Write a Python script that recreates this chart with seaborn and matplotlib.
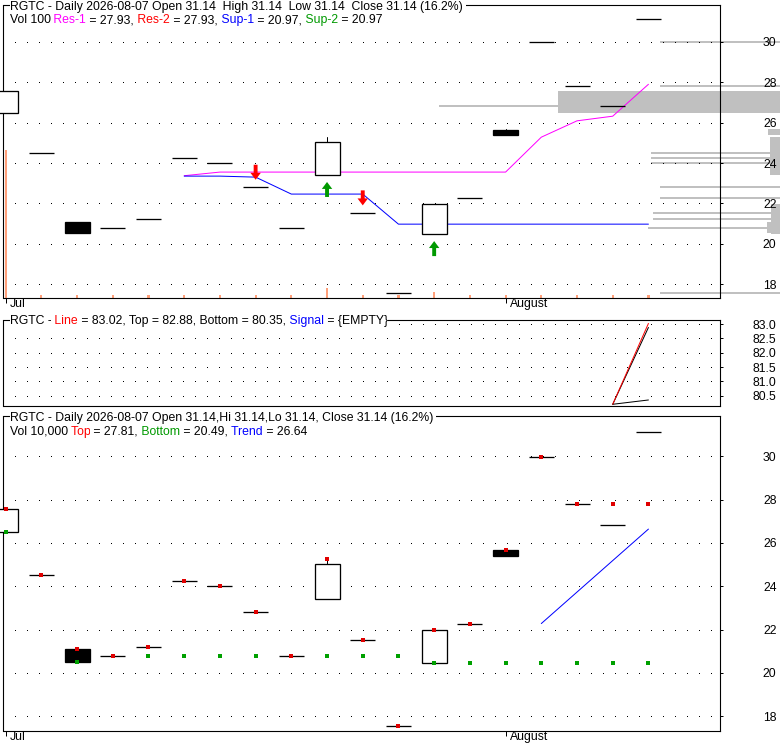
import matplotlib
matplotlib.use("Agg")
import matplotlib.pyplot as plt
import matplotlib.transforms as mtransforms
from matplotlib.patches import Rectangle
import seaborn as sns

# daily candles (19 sessions, early Jul .. 2026-08-07)
opens  = [26.49, 24.50, 21.09, 20.77, 21.22, 24.23, 24.00, 22.82, 20.77, 23.40,
          21.51, 17.56, 20.48, 22.25, 25.66, 29.99, 27.81, 26.81, 31.14]
highs  = [27.55, 24.50, 21.09, 20.77, 21.22, 24.23, 24.00, 22.82, 20.77, 25.27,
          21.51, 17.56, 21.97, 22.25, 25.68, 29.99, 27.81, 26.81, 31.14]
lows   = [26.49, 24.50, 20.51, 20.77, 21.22, 24.23, 24.00, 22.82, 20.77, 23.40,
          21.51, 17.56, 20.48, 22.25, 25.40, 29.99, 27.81, 26.81, 31.14]
closes = [27.55, 24.50, 20.51, 20.77, 21.22, 24.23, 24.00, 22.82, 20.77, 25.04,
          21.51, 17.56, 21.97, 22.25, 25.40, 29.99, 27.81, 26.81, 31.14]
volume = [5900, 100, 100, 100, 100, 100, 100, 100, 100, 400,
          100, 100, 250, 100, 100, 100, 100, 100, 100]

# volume-at-price bars hanging off the right edge, one per candle
profile = [222, 129, 13, 132, 127, 129, 129, 120, 132, 10,
           127, 120, 9, 120, 12, 120, 120, 341, 0]

# resistance / support lines
rs_idx = [5, 6, 7, 8, 9, 10, 11, 12, 13, 14, 15, 16, 17, 18]
res1 = [23.37, 23.55, 23.55, 23.55, 23.55, 23.55, 23.55, 23.55, 23.55, 23.55,
        25.28, 26.09, 26.32, 27.90]
sup1 = [23.35, 23.35, 23.30, 22.46, 22.46, 22.46, 20.97, 20.97, 20.97, 20.97,
        20.97, 20.97, 20.97, 20.97]
sell_idx = [7, 10]
sell_px = [23.17, 21.90]
buy_idx = [9, 12]
buy_px = [23.06, 20.13]

# middle oscillator panel
osc_idx = [17, 18]
osc_line = [80.20, 83.02]
osc_top = [80.20, 82.88]
osc_bottom = [80.20, 80.35]

# top / bottom dots and trend in the lower panel
tb_top = [27.55, 24.50, 21.09, 20.77, 21.22, 24.23, 24.00, 22.82, 20.77, 25.28,
          21.51, 17.56, 21.97, 22.25, 25.68, 29.99, 27.81, 27.81, 27.81]
tb_bottom = [26.49, 24.50, 20.51, 20.77, 20.77, 20.77, 20.77, 20.77, 20.77, 20.77,
             20.77, 20.77, 20.48, 20.48, 20.48, 20.48, 20.48, 20.48, 20.48]
trend_idx = [15, 18]
trend = [22.28, 26.64]

month_pos = [0, 14]
month_labels = ["Jul", "August"]
price_ticks = [18, 20, 22, 24, 26, 28, 30]
osc_ticks = [80.5, 81.0, 81.5, 82.0, 82.5, 83.0]

sns.set_style("white")
plt.rcParams["font.family"] = ["Liberation Sans", "DejaVu Sans"]
plt.rcParams["lines.scale_dashes"] = False

PX = 0.72          # points per pixel at 100 dpi
FS = 8.8
W, H = 780, 745
n = len(closes)
XL = (-0.06, 19.99)
BODY = 0.7
MAGENTA, RED, BLUE, GREEN = "#FF00FF", "#FF0000", "#0000FF", "#009900"


def frame(x0, y0, x1, y1):
    return [x0 / W, 1 - y1 / H, (x1 - x0) / W, (y1 - y0) / H]


fig = plt.figure(figsize=(W / 100, H / 100), dpi=100)
top_box = frame(3.5, 5, 719.5, 298)
pax = fig.add_axes(frame(0, 5, W, 298))
vax = fig.add_axes(top_box)
ax1 = fig.add_axes(top_box)
ax2 = fig.add_axes(frame(3.5, 320, 719.5, 406))
ax3 = fig.add_axes(frame(3.5, 416, 719.5, 731))


def style(ax, ylim, yticks, fmt):
    ax.set_xlim(*XL)
    ax.set_ylim(*ylim)
    ax.set_facecolor("none")
    ax.set_yticks(yticks)
    ax.set_yticklabels([fmt.format(v) for v in yticks])
    ax.yaxis.tick_right()
    ax.tick_params(axis="y", direction="out", length=3 * PX, width=PX,
                   pad=54 * PX, labelsize=FS, colors="black")
    for lbl in ax.get_yticklabels():
        lbl.set_ha("right")
    ax.yaxis.grid(True, color="black", linestyle=(0, (PX, 11 * PX)),
                  linewidth=PX, antialiased=False)
    ax.xaxis.grid(False)
    for sp in ax.spines.values():
        sp.set_visible(True)
        sp.set_color("black")
        sp.set_linewidth(0.8)


def month_axis(ax):
    ax.set_xticks(month_pos)
    ax.set_xticklabels(month_labels)
    ax.tick_params(axis="x", direction="out", length=5 * PX, width=PX,
                   pad=-5 * PX, labelsize=FS, bottom=True, colors="black")
    shift = mtransforms.ScaledTranslation(4 / 100, 0, fig.dpi_scale_trans)
    for lbl in ax.get_xticklabels():
        lbl.set_ha("left")
        lbl.set_transform(lbl.get_transform() + shift)


def candles(ax):
    for i in range(n):
        o, h, l, c = opens[i], highs[i], lows[i], closes[i]
        lo, hi = min(o, c), max(o, c)
        if h > hi:
            ax.plot([i, i], [hi, h], color="black", lw=PX, zorder=3)
        if l < lo:
            ax.plot([i, i], [l, lo], color="black", lw=PX, zorder=3)
        if hi - lo < 0.02:
            ax.plot([i - BODY / 2, i + BODY / 2], [c, c], color="black",
                    lw=1.3 * PX, solid_capstyle="butt", zorder=3, clip_on=False)
        else:
            ax.add_patch(Rectangle((i - BODY / 2, lo), BODY, hi - lo,
                                   facecolor="white" if c >= o else "black",
                                   edgecolor="black", lw=1.3 * PX, zorder=3,
                                   clip_on=False))


def header(ax, pieces, dy):
    # coloured pieces laid end to end, each on a white patch so the frame breaks
    box = dict(boxstyle="square,pad=0", fc="white", ec="none")
    prev = None
    for s, col in pieces:
        if prev is None:
            prev = ax.annotate(s, xy=(0, 1), xycoords="axes fraction",
                               xytext=(6 * PX, dy * PX), textcoords="offset points",
                               fontsize=FS, va="center", ha="left", color=col,
                               bbox=box)
        else:
            prev = ax.annotate(s, xy=(1, 0), xycoords=prev, fontsize=FS,
                               va="bottom", ha="left", color=col, bbox=box)


# ---- top panel: price with support / resistance ----
top_ylim = (17.31, 31.83)
pax.set_xlim(W, 0)
pax.set_ylim(*top_ylim)
pax.axis("off")
pax.barh(y=[(h + l) / 2 for h, l in zip(highs, lows)], width=profile,
         height=[max(h - l, 0.09) for h, l in zip(highs, lows)],
         left=0, color="#C0C0C0", linewidth=0)

vax.set_xlim(*XL)
vax.set_ylim(0, 11700)
vax.axis("off")
vax.bar(range(n), volume, width=0.06, color="#FFA07A", linewidth=0)

style(ax1, top_ylim, price_ticks, "{:d}")
month_axis(ax1)
sns.lineplot(x=rs_idx, y=res1, ax=ax1, color=MAGENTA, linewidth=PX)
sns.lineplot(x=rs_idx, y=sup1, ax=ax1, color=BLUE, linewidth=PX)
candles(ax1)
arrow = "simple,head_length=0.5,head_width=0.75,tail_width=0.28"
for i, p in zip(sell_idx, sell_px):
    ax1.annotate("", xy=(i, p), xytext=(0, 15 * PX), textcoords="offset points",
                 arrowprops=dict(arrowstyle=arrow, fc=RED, ec="none",
                                 shrinkA=0, shrinkB=0, mutation_scale=10))
for i, p in zip(buy_idx, buy_px):
    ax1.annotate("", xy=(i, p), xytext=(0, -15 * PX), textcoords="offset points",
                 arrowprops=dict(arrowstyle=arrow, fc=GREEN, ec="none",
                                 shrinkA=0, shrinkB=0, mutation_scale=10))
ax1.set_xlabel("")
ax1.set_ylabel("")

last = closes[-1]
chg = (last - closes[-2]) / closes[-2] * 100
header(ax1, [(f"RGTC - Daily 2026-08-07 Open {opens[-1]:.2f}  High {highs[-1]:.2f}  "
              f"Low {lows[-1]:.2f}  Close {last:.2f} ({chg:.1f}%) ", "black")], -1.5)
header(ax1, [("Vol 100", "black"), (" Res-1", MAGENTA), (" = 27.93,", "black"),
             (" Res-2", RED), (" = 27.93,", "black"), (" Sup-1", BLUE),
             (" = 20.97,", "black"), (" Sup-2", GREEN), (" = 20.97", "black")], -15)

# ---- middle panel: oscillator ----
style(ax2, (80.14, 83.14), osc_ticks, "{:.1f}")
ax2.set_xticks([])
sns.lineplot(x=osc_idx, y=osc_top, ax=ax2, color="black", linewidth=PX)
sns.lineplot(x=osc_idx, y=osc_bottom, ax=ax2, color="black", linewidth=PX)
sns.lineplot(x=osc_idx, y=osc_line, ax=ax2, color=RED, linewidth=PX)
ax2.set_xlabel("")
ax2.set_ylabel("")
header(ax2, [("RGTC -", "black"), (" Line", RED),
             (" = 83.02, Top = 82.88, Bottom = 80.35,", "black"),
             (" Signal", BLUE), (" = {EMPTY}", "black")], -1.5)

# ---- bottom panel: top / bottom / trend ----
style(ax3, (17.32, 31.86), price_ticks, "{:d}")
month_axis(ax3)
candles(ax3)
sns.lineplot(x=trend_idx, y=trend, ax=ax3, color=BLUE, linewidth=PX)
sns.scatterplot(x=list(range(n)), y=tb_bottom, ax=ax3, color="#00A000",
                marker="s", s=5, linewidth=0, zorder=4)
sns.scatterplot(x=list(range(n)), y=tb_top, ax=ax3, color="#E00000",
                marker="s", s=5, linewidth=0, zorder=5)
ax3.set_xlabel("")
ax3.set_ylabel("")
header(ax3, [(f"RGTC - Daily 2026-08-07 Open {opens[-1]:.2f},Hi {highs[-1]:.2f},"
              f"Lo {lows[-1]:.2f}, Close {last:.2f} ({chg:.1f}%) ", "black")], -1.5)
header(ax3, [("Vol 10,000", "black"), (" Top", RED), (" = 27.81,", "black"),
             (" Bottom", GREEN), (" = 20.49,", "black"), (" Trend", BLUE),
             (" = 26.64", "black")], -16)

fig.savefig("out.png", dpi=100)
